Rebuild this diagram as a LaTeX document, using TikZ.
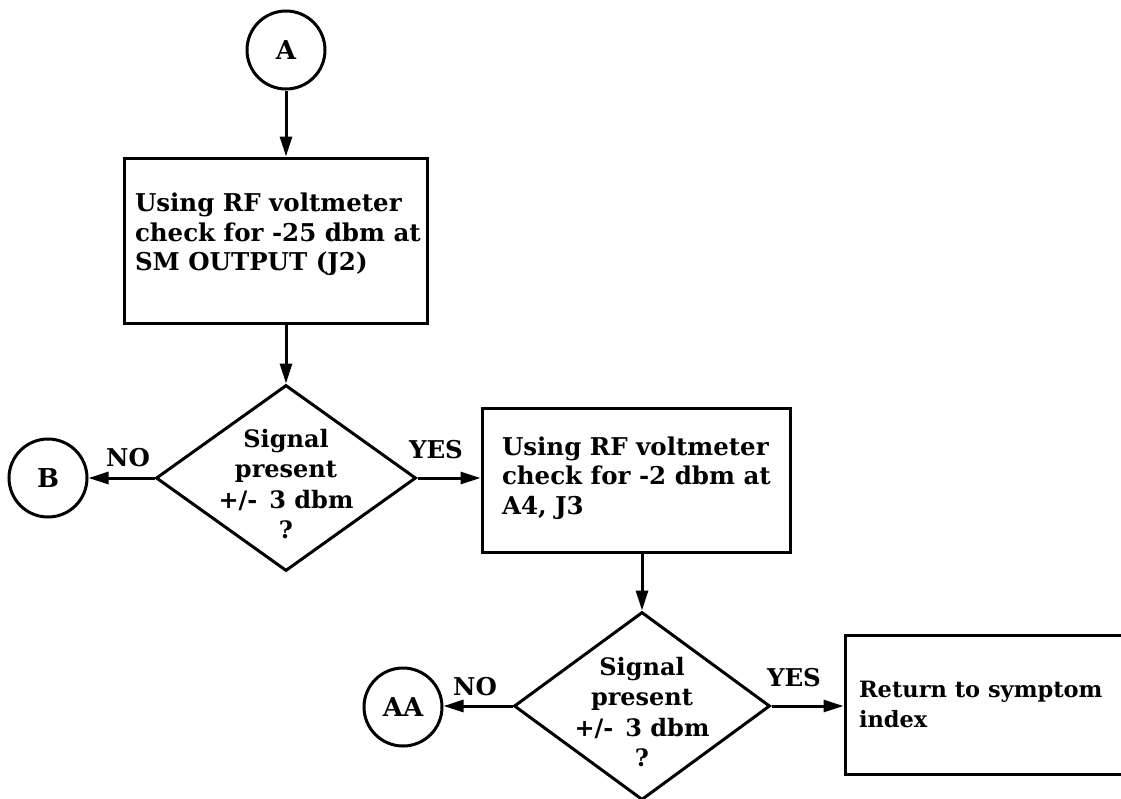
\documentclass[tikz,border=0pt]{standalone}
\usepackage{fontspec}
\setmainfont{DejaVu Serif}
\usetikzlibrary{shapes.geometric,arrows.meta}
\begin{document}
\begin{tikzpicture}[x=1pt,y=-1pt,
  line width=3pt,
  every node/.style={font=\fontsize{24.5}{29.5}\selectfont\bfseries},
  conn/.style={circle,draw,minimum size=78pt,inner sep=0pt,font=\fontsize{26}{26}\selectfont\bfseries},
  stepbox/.style={draw,rectangle,inner sep=0pt},
  decision/.style={draw,diamond,inner sep=0pt},
  boxtext/.style={anchor=west,align=left,inner sep=0pt},
  dtext/.style={align=center,inner sep=0pt,font=\fontsize{24}{30.5}\selectfont\bfseries},
  lab/.style={inner sep=0pt},
  arr/.style={-{Triangle[length=20pt,width=12pt]}}
]
\useasboundingbox (0,0) rectangle (1121,798);

\node[conn] (A) at (286,50) {A};
\node[stepbox,minimum width=303pt,minimum height=165pt] (b1) at (275.5,240.5) {};
\node[boxtext] (t1) at ([xshift=11pt,yshift=6pt]b1.west) {Using RF voltmeter\\check for -25 dbm at\\SM OUTPUT (J2)};

\node[decision,minimum width=260pt,minimum height=186pt] (d1) at (286,478) {};
\node[dtext] (d1t) at (286,484) {Signal\\present\\+/-\hspace{12pt}3 dbm\\?};
\node[conn] (B) at (48,478) {B};

\node[stepbox,minimum width=308pt,minimum height=144pt] (b2) at (636,480) {};
\node[boxtext] (t2) at ([xshift=20pt,yshift=2pt]b2.west) {Using RF voltmeter\\check for -2 dbm at\\A4, J3};

\node[decision,minimum width=256pt,minimum height=188pt] (d2) at (642,706) {};
\node[dtext] (d2t) at (642,712) {Signal\\present\\+/-\hspace{12pt}3 dbm\\?};
\node[conn] (AA) at (403,707) {AA};

\node[stepbox,minimum width=310pt,minimum height=139pt] (b3) at (1000,704.5) {};
\node[boxtext,font=\fontsize{22.5}{29.5}\selectfont\bfseries] (t3) at ([xshift=14pt]b3.west) {Return to symptom\\index};

\draw[arr] (A) -- (A |- b1.north);
\draw[arr] (d1.north |- b1.south) -- (d1.north);
\draw[arr] (d1.west) -- (d1.west -| B.east);
\draw[arr] (d1.east) -- (d1.east -| b2.west);
\draw[arr] (d2.north |- b2.south) -- (d2.north);
\draw[arr] (d2.west) -- (d2.west -| AA.east);
\draw[arr] (d2.east) -- (d2.east -| b3.west);

\node[lab] (no1) at (128,458) {NO};
\node[lab] (yes1) at (436,450) {YES};
\node[lab] (no2) at (475,687) {NO};
\node[lab] (yes2) at (794,678) {YES};
\end{tikzpicture}
\end{document}
